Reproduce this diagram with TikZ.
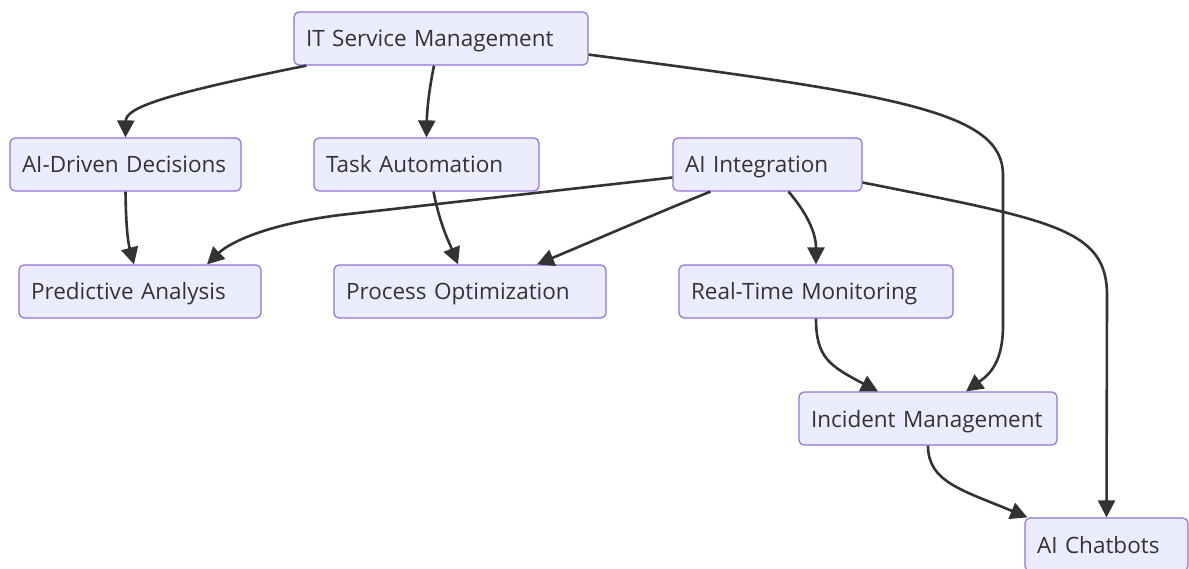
\documentclass[tikz,border=0pt]{standalone}
\usepackage{fontspec}
\setmainfont{Open Sans}
\usetikzlibrary{arrows.meta,calc}
\definecolor{boxfill}{HTML}{ECECFF}
\definecolor{boxline}{HTML}{9370DB}
\definecolor{edgecol}{HTML}{333333}
\tikzset{
  box/.style={draw=boxline, fill=boxfill, line width=1.2pt, rounded corners=5pt,
    minimum height=53pt, inner xsep=12pt, inner ysep=0pt, align=left,
    text height=19pt, text depth=2pt,
    font=\fontsize{22.5}{26}\selectfont, text=edgecol},
  flow/.style={draw=edgecol, line width=2.6pt, -{Triangle[length=17pt,width=17pt]}}
}
\begin{document}
\begin{tikzpicture}[x=1pt,y=-1pt]
            \useasboundingbox (0,0) rectangle (1189,569);
            % boxes
            \foreach \n/\x/\y/\w/\t in {itsm/441/38.5/294/IT Service Management,
                aid/125.5/164.5/231/AI-Driven Decisions,
                task/426.5/164.5/225/Task Automation,
                aii/767.5/164.5/189/AI Integration,
                pred/140/291.5/242/Predictive Analysis,
                proc/470/291.5/272/Process Optimization,
                rtm/816/291.5/274/Real-Time Monitoring,
                inc/928/418.5/258/Incident Management,
                chat/1106.5/544.5/163/AI Chatbots}{
                \pgfmathsetmacro{\tw}{\w-24}
                \node[box, text width=\tw pt] (\n) at (\x,\y) {\t};
            }
            % from the top
            \draw[flow] ($(itsm.south west)+(13,0)$) .. controls (160,95) and (126,108) .. (aid.north);
            \draw[flow] ($(itsm.south)+(-7,0)$) .. controls (429,90) and (427,110) .. (task.north);
            \draw[flow] ($(itsm.south east)+(0,-11)$) .. controls (900,95) and (1003,112) .. (1003,175)
                -- (1003,325) .. controls (1003,362) and (990,374) .. ($(inc.north)+(38,0)$);
            % second row
            \draw[flow] (aid.south) .. controls (126,228) and (128,242) .. ($(pred.north)+(-6,0)$);
            \draw[flow] ($(task.south)+(7,0)$) .. controls (440,225) and (449,242) .. ($(proc.north)+(-12,0)$);
            \draw[flow] ($(aii.west)+(0,13)$) -- (340,215) .. controls (262,225) and (228,244) .. ($(pred.north)+(67,0)$);
            \draw[flow] ($(aii.south)+(-57,0)$) .. controls (650,216) and (600,238) .. ($(proc.north)+(67,0)$);
            \draw[flow] ($(aii.south)+(21,0)$) .. controls (806,212) and (816,232) .. (rtm.north);
            \draw[flow] ($(aii.east)+(0,18)$) .. controls (1050,220) and (1107,228) .. (1107,295) -- (chat.north);
            % lower rows
            \draw[flow] (rtm.south) .. controls (816,358) and (830,366) .. ($(inc.north)+(-50,0)$);
            \draw[flow] (inc.south) .. controls (928,482) and (962,490) .. ($(chat.north west)+(3,0)$);
\end{tikzpicture}
\end{document}
